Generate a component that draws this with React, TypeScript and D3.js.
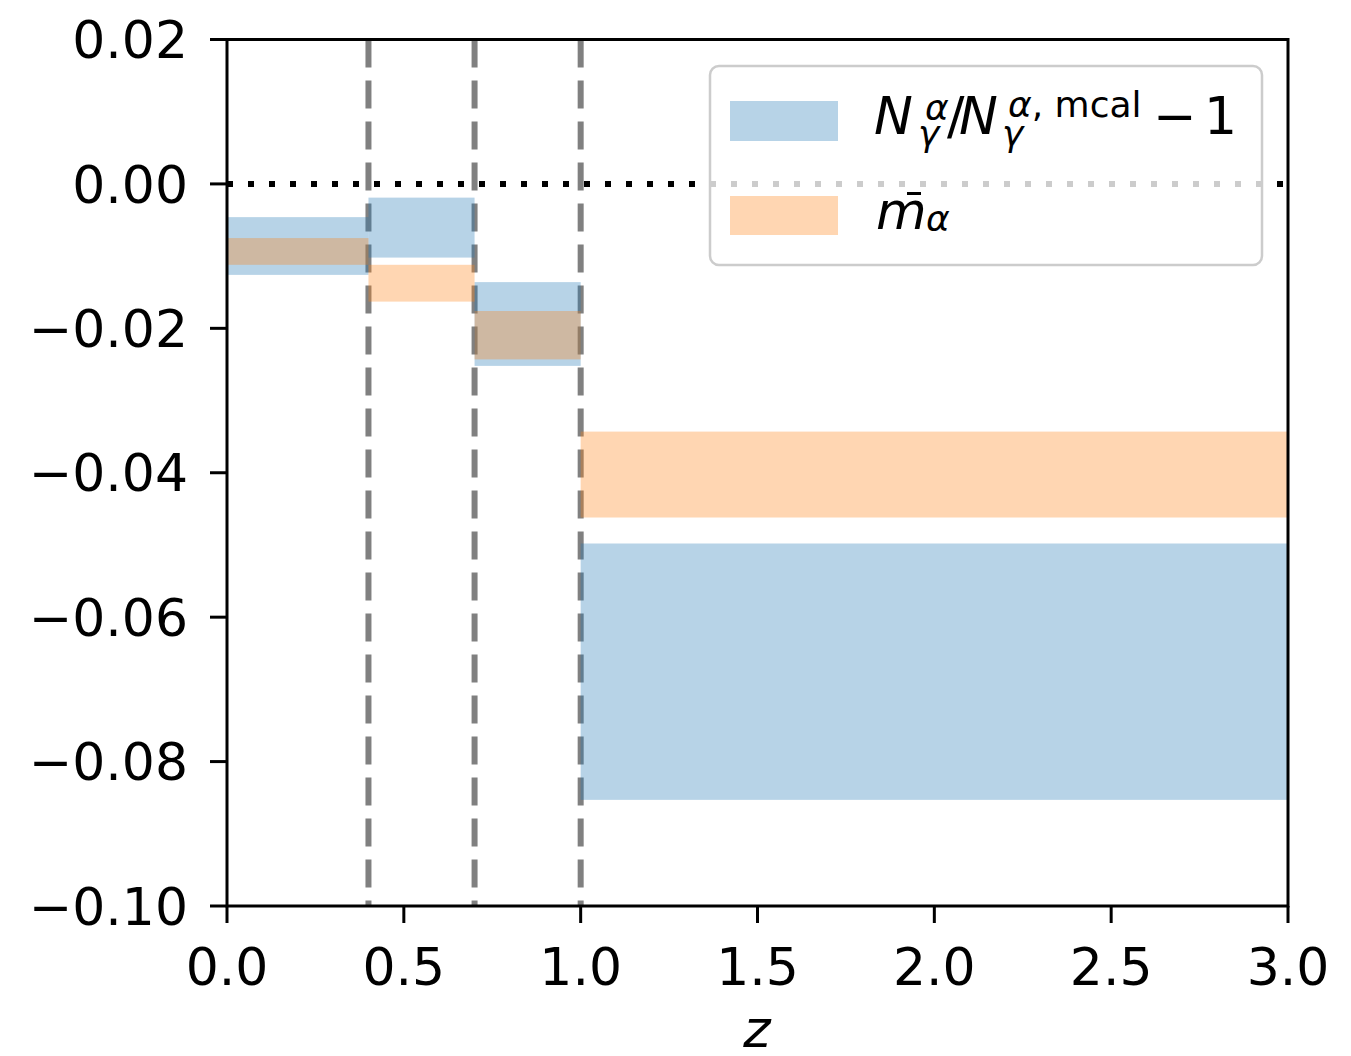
import React from "react";
import * as d3 from "d3";

const binEdges = [0.0, 0.4, 0.7, 1.0, 3.0];
const ratioLow = [-0.0126, -0.0102, -0.0252, -0.0853];
const ratioHigh = [-0.0046, -0.0019, -0.0136, -0.0498];
const mLow = [-0.0112, -0.0163, -0.0243, -0.0462];
const mHigh = [-0.0075, -0.0112, -0.0176, -0.0343];
const dividers = [0.4, 0.7, 1.0];
const xTicks = [0.0, 0.5, 1.0, 1.5, 2.0, 2.5, 3.0];
const yTicks = [0.02, 0.0, -0.02, -0.04, -0.06, -0.08, -0.1];

const W = 1351;
const H = 1056;
const L = 227, R = 1288, T = 39.5, B = 906;

export default function App() {
  const x = d3.scaleLinear().domain([0, 3]).range([L, R]);
  const y = d3.scaleLinear().domain([-0.1, 0.02]).range([B, T]);
  const font = "'DejaVu Sans', sans-serif";
  const blue = "#1f77b4";
  const orange = "#ff7f0e";
  const op = 0.32;
  const fs = 52;
  const ss = 36;
  const fmtY = (v: number) => {
    const s = Math.abs(v).toFixed(2);
    return (v < -1e-9 ? "\u2212" : "") + s;
  };
  return (
    <svg width={W} height={H} style={{ position: "absolute", left: 0, top: 0 }} fontFamily={font}>
      <rect x={0} y={0} width={W} height={H} fill="#fff" />
      {dividers.map((d, i) => (
        <line key={"d" + i} x1={x(d)} x2={x(d)} y1={T} y2={B} stroke="#808080" strokeWidth={6} strokeDasharray="28 13" />
      ))}
      {binEdges.slice(0, -1).map((e, i) => (
        <rect key={"b" + i} x={x(e)} width={x(binEdges[i + 1]) - x(e)} y={y(ratioHigh[i])} height={y(ratioLow[i]) - y(ratioHigh[i])} fill={blue} fillOpacity={op} />
      ))}
      {binEdges.slice(0, -1).map((e, i) => (
        <rect key={"o" + i} x={x(e)} width={x(binEdges[i + 1]) - x(e)} y={y(mHigh[i])} height={y(mLow[i]) - y(mHigh[i])} fill={orange} fillOpacity={op} />
      ))}
      <line x1={L} x2={R} y1={y(0)} y2={y(0)} stroke="#000" strokeWidth={6} strokeDasharray="6 15" />
      <rect x={L} y={T} width={R - L} height={B - T} fill="none" stroke="#000" strokeWidth={3} />
      {yTicks.map((v, i) => (
        <g key={"yt" + i}>
          <line x1={L - 17} x2={L} y1={y(v)} y2={y(v)} stroke="#000" strokeWidth={3} />
          <text x={L - 39} y={y(v)} dy="0.36em" textAnchor="end" fontSize={fs} fill="#000">{fmtY(v)}</text>
        </g>
      ))}
      {xTicks.map((v, i) => (
        <g key={"xt" + i}>
          <line x1={x(v)} x2={x(v)} y1={B} y2={B + 17} stroke="#000" strokeWidth={3} />
          <text x={x(v)} y={985} textAnchor="middle" fontSize={fs} fill="#000">{v.toFixed(1)}</text>
        </g>
      ))}
      <text x={757} y={1047} textAnchor="middle" fontSize={fs} fontStyle="italic" fill="#000">z</text>
      <rect x={710} y={66} width={552} height={199} rx={9} fill="#fff" fillOpacity={0.8} stroke="#cccccc" strokeWidth={2.5} />
      <rect x={730} y={101} width={108} height={40} fill={blue} fillOpacity={op} />
      <rect x={730} y={196} width={108} height={39} fill={orange} fillOpacity={op} />
      <g fill="#000">
        <text x={874} y={134} fontSize={fs} fontStyle="italic">N</text>
        <text x={925} y={120} fontSize={ss} fontStyle="italic">α</text>
        <text x={918} y={146} fontSize={ss} fontStyle="italic">γ</text>
        <text x={947} y={134} fontSize={fs}>/</text>
        <text x={959} y={134} fontSize={fs} fontStyle="italic">N</text>
        <text x={1008} y={117} fontSize={ss}><tspan fontStyle="italic">α</tspan>, mcal</text>
        <text x={1002} y={146} fontSize={ss} fontStyle="italic">γ</text>
        <text x={1153} y={134} fontSize={fs}>{"\u2212"}</text>
        <text x={1204} y={134} fontSize={fs}>1</text>
        <text x={876} y={229} fontSize={fs} fontStyle="italic">m</text>
        <line x1={907} x2={921} y1={193.5} y2={193.5} stroke="#000" strokeWidth={3} />
        <text x={926} y={231} fontSize={ss} fontStyle="italic">α</text>
      </g>
    </svg>
  );
}
